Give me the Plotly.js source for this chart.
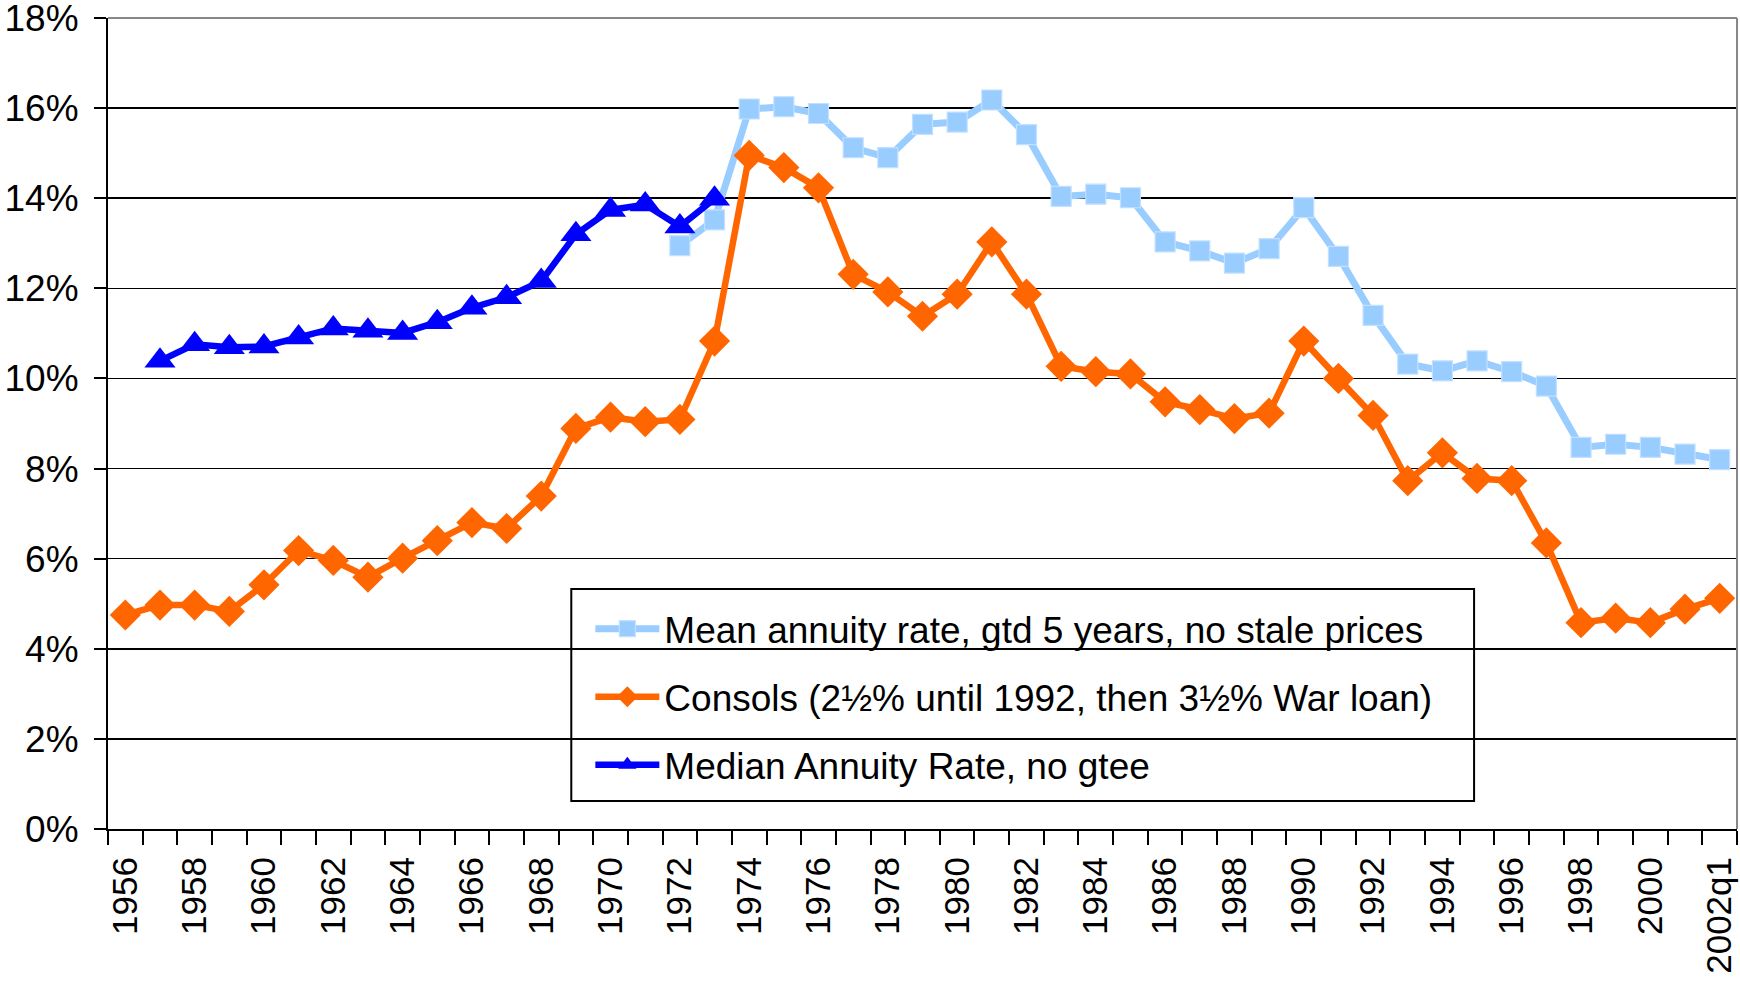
<!DOCTYPE html>
<html>
<head>
<meta charset="utf-8">
<script src="https://cdn.plot.ly/plotly-3.0.1.min.js"></script>
<style>html,body{margin:0;padding:0;background:#fff;}#chart{width:1740px;height:988px;}</style>
</head>
<body>
<div id="chart"></div>
<script>
const categories = ["1956","1957","1958","1959","1960","1961","1962","1963","1964","1965","1966","1967","1968","1969","1970","1971","1972","1973","1974","1975","1976","1977","1978","1979","1980","1981","1982","1983","1984","1985","1986","1987","1988","1989","1990","1991","1992","1993","1994","1995","1996","1997","1998","1999","2000","2001","2002q1"];

const meanGtd5 = [null,null,null,null,null,null,null,null,null,null,null,null,null,null,null,null,
  12.95,13.52,15.98,16.03,15.88,15.12,14.90,15.64,15.69,16.18,15.41,14.04,14.09,14.01,13.03,12.83,12.56,12.88,13.79,12.71,11.40,10.32,10.17,10.39,10.15,9.83,8.47,8.54,8.47,8.32,8.20];

const consols = [4.75,4.97,4.97,4.83,5.42,6.18,5.96,5.59,6.01,6.40,6.80,6.67,7.39,8.89,9.14,9.04,9.09,10.83,14.95,14.68,14.23,12.31,11.92,11.38,11.87,13.03,11.87,10.27,10.15,10.10,9.48,9.31,9.11,9.23,10.83,10.00,9.18,7.73,8.35,7.78,7.73,6.35,4.58,4.68,4.58,4.88,5.12];

const medianNoGtee = [null,10.39,10.76,10.69,10.71,10.91,11.11,11.06,11.01,11.25,11.57,11.80,12.16,13.20,13.74,13.86,13.37,13.99,
  null,null,null,null,null,null,null,null,null,null,null,null,null,null,null,null,null,null,null,null,null,null,null,null,null,null,null,null,null];

const seriesNames = ["Mean annuity rate, gtd 5 years, no stale prices","Consols (2½% until 1992, then 3½% War loan)","Median Annuity Rate, no gtee"];

const yTickVals = [0,2,4,6,8,10,12,14,16,18];
const yTickText = yTickVals.map(v => v + "%");
const xTickText = categories.map((c,i) => (i % 2 === 0 ? c : ""));
const FONT = "Liberation Sans, Arial, sans-serif";

const traces = [
  {x: categories, y: meanGtd5, name: seriesNames[0], type: "scatter", mode: "lines+markers",
   legendgroup: "a", line: {color: "#99CCFF", width: 7},
   marker: {symbol: "square", size: 20, color: "#99CCFF", line: {color: "#C2E1FF", width: 1.2}}},
  {x: categories, y: consols, name: seriesNames[1], type: "scatter", mode: "lines+markers",
   legendgroup: "b", line: {color: "#FF6600", width: 6.5},
   marker: {symbol: "diamond", size: 24, color: "#FF6600"}},
  {x: categories, y: medianNoGtee, name: seriesNames[2], type: "scatter", mode: "lines+markers",
   legendgroup: "c", line: {color: "#0000FF", width: 6.5},
   marker: {symbol: "triangle-up", size: 27, color: "#0000FF"}}
];

const layout = {
  width: 1740, height: 988,
  paper_bgcolor: "#fff", plot_bgcolor: "#fff",
  margin: {l: 107.6, r: 3, t: 18, b: 159},
  font: {family: FONT, size: 36, color: "#000"},
  showlegend: true,
  legend: {x: 0.2961, y: 0.2847, xanchor: "left", yanchor: "top",
    bgcolor: "rgba(0,0,0,0)", borderwidth: 0,
    font: {family: FONT, size: 37, color: "#000"}, tracegroupgap: 17, itemwidth: 64},
  xaxis: {type: "category", range: [-0.5, 46.5], tickson: "boundaries",
    tickmode: "array", tickvals: categories, ticktext: xTickText,
    tickangle: -90, ticks: "outside", ticklen: 14, tickwidth: 2, tickcolor: "#000",
    ticklabelstandoff: 12,
    showline: true, linecolor: "#000", linewidth: 2, showgrid: false, zeroline: false,
    tickfont: {family: FONT, size: 35, color: "#000"}, fixedrange: true},
  yaxis: {range: [0, 18], tickmode: "array", tickvals: yTickVals, ticktext: yTickText,
    ticks: "outside", ticklen: 12, tickwidth: 2, tickcolor: "#000",
    ticklabelstandoff: 8, ticklabeloverflow: "allow",
    showline: true, linecolor: "#000", linewidth: 2,
    showgrid: true, gridcolor: "#000", gridwidth: 1.5, zeroline: false,
    tickfont: {family: FONT, size: 37, color: "#000"}, fixedrange: true},
  shapes: [
    {type: "line", xref: "paper", yref: "paper", x0: 1, x1: 1, y0: 0, y1: 1, line: {color: "#888", width: 2}},
    {type: "line", xref: "paper", yref: "paper", x0: 0, x1: 1, y0: 1, y1: 1, line: {color: "#888", width: 2}},
    {type: "rect", xref: "paper", yref: "paper", x0: 0.2844, x1: 0.8386, y0: 0.0345, y1: 0.2959,
     layer: "between", fillcolor: "#fff", line: {color: "#000", width: 2}}
  ]
};

Plotly.newPlot("chart", traces, layout, {displayModeBar: false, staticPlot: true});
</script>
</body>
</html>
